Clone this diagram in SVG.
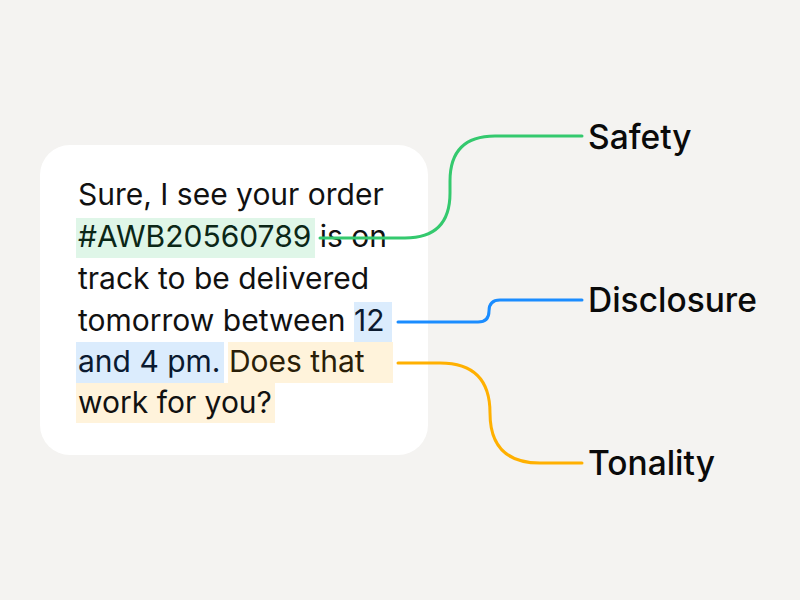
<svg xmlns="http://www.w3.org/2000/svg" width="800" height="600" viewBox="0 0 800 600">
<style>
.body{font-family:Inter,"Noto Sans","Liberation Sans",sans-serif;font-size:30px;fill:#111111}
.lbl{font-family:Inter,"Noto Sans","Liberation Sans",sans-serif;font-size:33.5px;font-weight:500;fill:#0a0a0a}
.conn{fill:none;stroke-width:3;stroke-linecap:round;stroke-linejoin:round}
.hg{fill:#DFF6E8}.hb{fill:#DBECFD}.ho{fill:#FFF3DB}
</style>
<rect width="800" height="600" fill="#F4F3F1"/>
<g id="message">
<rect x="40" y="145" width="388" height="310" rx="30" fill="#FFFFFF"/>
<rect class="hg" x="76" y="218" width="239" height="40"/>
<rect class="hb" x="354" y="302" width="38" height="40"/>
<rect class="hb" x="76" y="342" width="148" height="41"/>
<rect class="ho" x="228" y="342" width="165" height="41"/>
<rect class="ho" x="76" y="383" width="199" height="40"/>
<text class="body" x="78" y="205">Sure, I see your order</text>
<text class="body" x="78" y="247"><tspan fill="#0B2717">#AWB20560789</tspan> is on</text>
<text class="body" x="78" y="289">track to be delivered</text>
<text class="body" x="78" y="331">tomorrow between <tspan fill="#0B1A30">12</tspan></text>
<text class="body" x="78" y="372"><tspan fill="#0B1A30">and 4 pm.</tspan> <tspan fill="#2A1E08">Does that</tspan></text>
<text class="body" x="78" y="413" fill="#2A1E08">work for you?</text>
</g>
<g id="connectors">
<path class="conn" stroke="#34C96E" d="M320 238 H405 Q450 238 450 193 V181 Q450 136 495 136 H582"/>
<path class="conn" stroke="#1A8CFF" d="M398 322 H478 Q489 322 489 311 Q489 300 500 300 H582"/>
<path class="conn" stroke="#FFB000" d="M398 363 H440 Q490 363 490 413 Q490 463 540 463 H582"/>
</g>
<g id="safety"><text class="lbl" x="588" y="149">Safety</text></g>
<g id="disclosure"><text class="lbl" x="588" y="312">Disclosure</text></g>
<g id="tonality"><text class="lbl" x="588" y="475">Tonality</text></g>
</svg>
